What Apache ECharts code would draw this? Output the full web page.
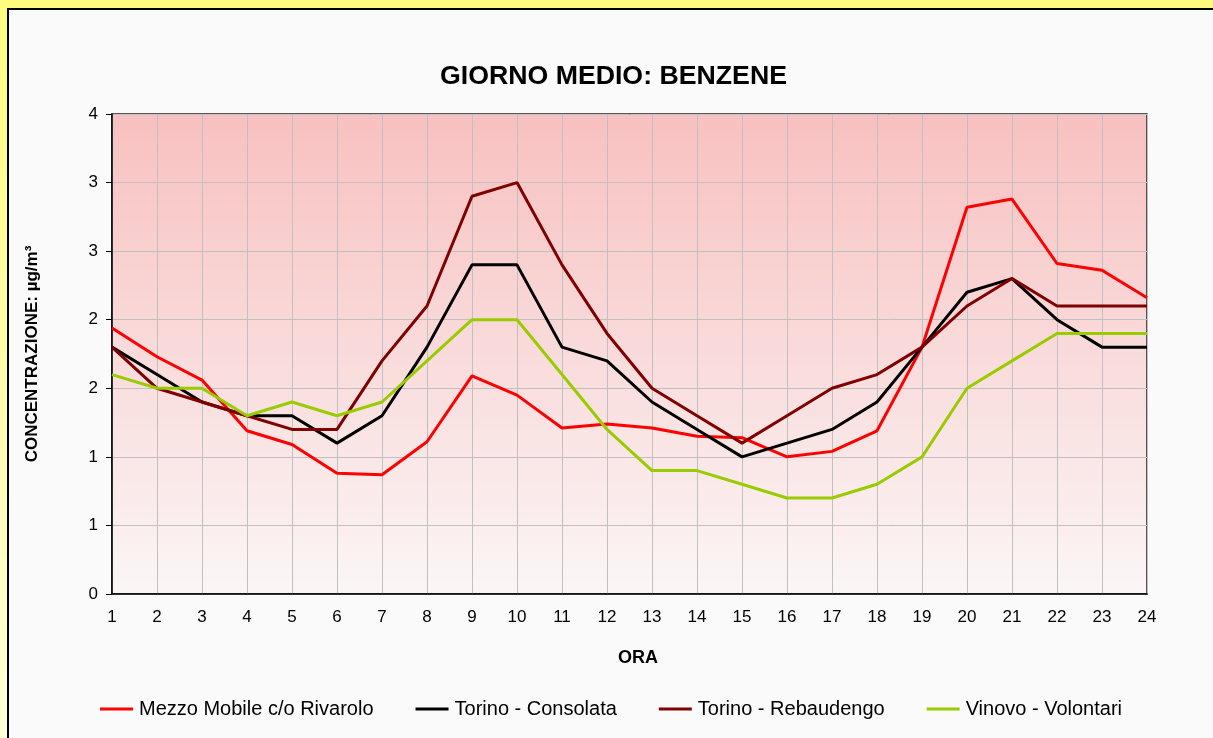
<!DOCTYPE html>
<html>
<head>
<meta charset="utf-8">
<script src="https://cdn.jsdelivr.net/npm/echarts@6/dist/echarts.min.js"></script>
<style>
  html, body { margin: 0; padding: 0; background: #fafafa; }
  #main { width: 1213px; height: 738px; }
</style>
</head>
<body>
<div id="main"></div>
<script>
// hours of the day
const hours = ['1','2','3','4','5','6','7','8','9','10','11','12','13','14','15','16','17','18','19','20','21','22','23','24'];

// average daily profile, benzene µg/m3
const rivarolo = [1.94, 1.73, 1.56, 1.19, 1.09, 0.88, 0.87, 1.11, 1.59, 1.45, 1.21, 1.24, 1.21, 1.15, 1.14, 1.00, 1.04, 1.19, 1.80, 2.82, 2.88, 2.41, 2.36, 2.16];
const consolata = [1.8, 1.6, 1.4, 1.3, 1.3, 1.1, 1.3, 1.8, 2.4, 2.4, 1.8, 1.7, 1.4, 1.2, 1.0, 1.1, 1.2, 1.4, 1.8, 2.2, 2.3, 2.0, 1.8, 1.8];
const rebaudengo = [1.8, 1.5, 1.4, 1.3, 1.2, 1.2, 1.7, 2.1, 2.9, 3.0, 2.4, 1.9, 1.5, 1.3, 1.1, 1.3, 1.5, 1.6, 1.8, 2.1, 2.3, 2.1, 2.1, 2.1];
const vinovo = [1.6, 1.5, 1.5, 1.3, 1.4, 1.3, 1.4, 1.7, 2.0, 2.0, 1.6, 1.2, 0.9, 0.9, 0.8, 0.7, 0.7, 0.8, 1.0, 1.5, 1.7, 1.9, 1.9, 1.9];

const seriesNames = ['Mezzo Mobile c/o Rivarolo', 'Torino - Consolata', 'Torino - Rebaudengo', 'Vinovo - Volontari'];
const seriesColors = ['#ff0000', '#000000', '#800000', '#99cc00'];

const font = "'Liberation Sans', Arial, sans-serif";

const chart = echarts.init(document.getElementById('main'));

function line(name, data, i) {
  return {
    name: name,
    type: 'line',
    data: data,
    symbol: 'none',
    lineStyle: { color: seriesColors[i], width: 3 },
    itemStyle: { color: seriesColors[i] }
  };
}

const option = {
  backgroundColor: '#fafafa',
  animation: false,
  title: {
    text: 'GIORNO MEDIO: BENZENE',
    left: 435,
    top: 58,
    textStyle: { fontFamily: font, fontSize: 26.7, fontWeight: 'bold', color: '#000' }
  },
  legend: {
    left: 95,
    top: 694,
    icon: 'rect',
    itemWidth: 33,
    itemHeight: 3,
    itemGap: 42,
    textStyle: { fontFamily: font, fontSize: 20, color: '#000', padding: [0, 0, 0, 1] },
    data: seriesNames
  },
  graphic: [
    { type: 'rect', shape: { x: 0, y: 0, width: 1213, height: 8 }, style: { fill: '#fffa80' } },
    { type: 'rect', shape: { x: 0, y: 0, width: 7, height: 738 },
      style: { fill: new echarts.graphic.LinearGradient(0, 0, 0, 1, [
        { offset: 0, color: '#fffa80' }, { offset: 1, color: '#ffffd8' }]) } },
    { type: 'line', shape: { x1: 7, y1: 9, x2: 1213, y2: 9 }, style: { stroke: '#000', lineWidth: 2 } },
    { type: 'line', shape: { x1: 8, y1: 8, x2: 8, y2: 738 }, style: { stroke: '#000', lineWidth: 2 } }
  ],
  grid: {
    left: 112,
    right: 66,
    top: 114,
    bottom: 144,
    show: true,
    borderColor: '#222',
    borderWidth: 1.5,
    backgroundColor: new echarts.graphic.LinearGradient(0, 0, 0, 1, [
      { offset: 0, color: '#f8c0c0' },
      { offset: 1, color: '#fbf6f6' }
    ])
  },
  xAxis: {
    type: 'category',
    data: hours,
    boundaryGap: false,
    name: 'ORA',
    nameLocation: 'middle',
    nameGap: 55,
    nameTextStyle: { fontFamily: font, fontSize: 18, fontWeight: 'bold', color: '#000', padding: [0, 0, 0, 17] },
    axisLine: { lineStyle: { color: '#000', width: 1.5 } },
    axisTick: { show: false },
    axisLabel: { fontFamily: font, fontSize: 17, color: '#000', margin: 15, interval: 0 },
    splitLine: { show: true, lineStyle: { color: '#c0c0c0', width: 1 } }
  },
  yAxis: {
    type: 'value',
    min: 0,
    max: 3.5,
    interval: 0.5,
    name: 'CONCENTRAZIONE: µg/m³',
    nameLocation: 'middle',
    nameGap: 71,
    nameTextStyle: { fontFamily: font, fontSize: 17, fontWeight: 'bold', color: '#000' },
    axisLine: { show: true, lineStyle: { color: '#000', width: 1.5 } },
    axisTick: { show: true, length: 6, lineStyle: { color: '#000' } },
    axisLabel: {
      fontFamily: font, fontSize: 17, color: '#000', margin: 14,
      formatter: function (v) { return String(Math.round(v)); }
    },
    splitLine: { show: true, lineStyle: { color: '#c0c0c0', width: 1 } }
  },
  series: [
    line(seriesNames[0], rivarolo, 0),
    line(seriesNames[1], consolata, 1),
    line(seriesNames[2], rebaudengo, 2),
    line(seriesNames[3], vinovo, 3)
  ]
};

chart.setOption(option);
</script>
</body>
</html>
